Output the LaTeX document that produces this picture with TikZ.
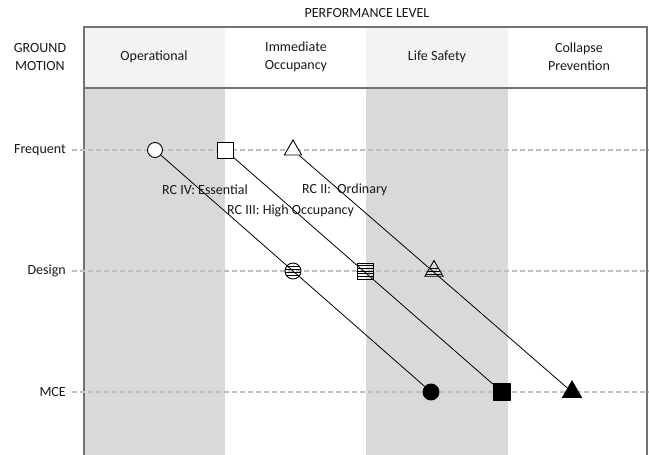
\documentclass[tikz,border=0pt]{standalone}
\usepackage{fontspec}
\setmainfont{Carlito}
\usetikzlibrary{shapes.geometric}
\definecolor{bandgray}{RGB}{217,217,219}
\definecolor{headgray}{RGB}{243,243,243}
\definecolor{framegray}{RGB}{115,115,115}
\definecolor{gridgray}{RGB}{190,190,190}
\definecolor{inkgray}{RGB}{25,25,25}

\begin{document}
\begin{tikzpicture}[x=1pt,y=-1pt,font=\fontsize{14}{18}\selectfont,line join=miter,
lvl/.style={align=center,text=inkgray},
gm/.style={anchor=east,text=inkgray,inner sep=0pt},
rclab/.style={anchor=west,text=inkgray,inner sep=0pt},
frame/.style={framegray,line width=1.3pt},
guide/.style={gridgray,dash pattern=on 5pt off 3pt,line width=1.2pt},
rc/.style={black,line width=.8pt},
mk/.style={draw=black,line width=.9pt,inner sep=0pt},
opencirc/.style={mk,circle,fill=white,minimum size=15pt},
opensq/.style={mk,rectangle,fill=white,minimum size=16pt},
opentri/.style={mk,regular polygon,regular polygon sides=3,fill=white,minimum size=20pt},
hatch/.style={path picture={\foreach \k in {#1}{\draw[line width=.9pt] ([yshift=\k pt]path picture bounding box.west)--([yshift=\k pt]path picture bounding box.east);}}},
hatchcirc/.style={mk,circle,minimum size=16pt,hatch={-4.5,-1.5,1.5,4.5}},
hatchsq/.style={mk,rectangle,minimum size=16pt,hatch={-5.4,-2.7,0,2.7,5.4}},
hatchtri/.style={mk,regular polygon,regular polygon sides=3,minimum size=21pt,hatch={-6,-3,0}},
fillcirc/.style={mk,circle,fill=black,minimum size=16pt},
fillsq/.style={mk,rectangle,fill=black,minimum size=17pt},
filltri/.style={mk,regular polygon,regular polygon sides=3,fill=black,minimum size=22pt}]
\useasboundingbox (0,0) rectangle (649,455);
% column bands
\fill[headgray] (84,27) rectangle (225,88);
\fill[headgray] (366,27) rectangle (508,88);
\fill[bandgray] (84,88) rectangle (225,455);
\fill[bandgray] (366,88) rectangle (508,455);
\draw[frame] (84,455)--(84,27)--(647,27)--(647,455);
\draw[frame] (84,88)--(647,88);
% headings
\node[lvl] (perf) at (367,13) {PERFORMANCE LEVEL};
\node[lvl] (ground) at (40,57) {GROUND\\MOTION};
\node[lvl] (op) at (154,57) {Operational};
\node[lvl] (io) at (296,57) {Immediate\\Occupancy};
\node[lvl] (ls) at (437,57) {Life Safety};
\node[lvl] (cp) at (579,57) {Collapse\\Prevention};
% ground motion levels
\foreach \y/\t in {150/Frequent,271/Design,392/MCE}{
  \node[gm] (row\t) at (66,\y) {\t};
  \draw[guide] (72,\y)--(649,\y);
}
% markers
\node[opencirc] (ivA) at (155,150) {};
\node[opensq] (iiiA) at (225,150) {};
\node[opentri] (iiA) at (293,150) {};
\node[hatchcirc] (ivB) at (293,271) {};
\node[hatchsq] (iiiB) at (365,271) {};
\node[hatchtri] (iiB) at (434,271) {};
\node[fillcirc] (ivC) at (431,392) {};
\node[fillsq] (iiiC) at (502,392) {};
\node[filltri] (iiC) at (572,392) {};
\draw[rc] (ivA)--(ivC);
\draw[rc] (iiiA)--(iiiC);
\draw[rc] (iiA)--(iiC);
% risk categories
\node[rclab] (rcIV) at (162,190) {RC IV: Essential};
\node[rclab] (rcIII) at (227,211) {RC III: High Occupancy};
\node[rclab] (rcII) at (302,190) {RC II:\ \ Ordinary};
\end{tikzpicture}
\end{document}
